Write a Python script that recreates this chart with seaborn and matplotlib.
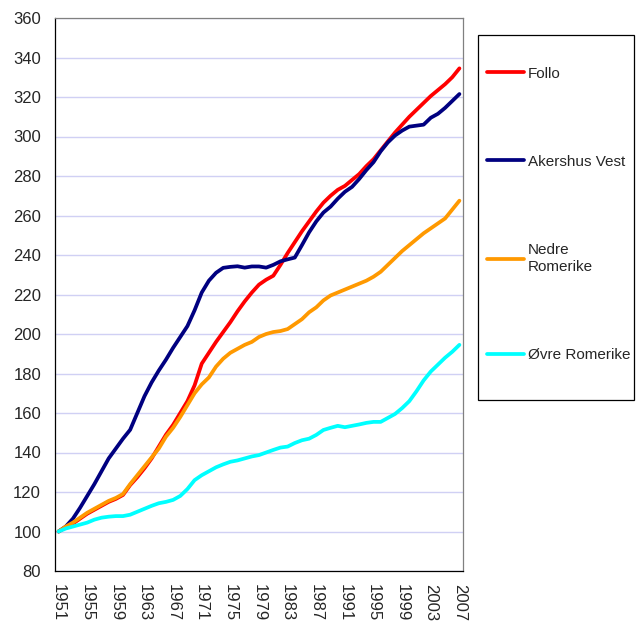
import numpy as np
import pandas as pd
import seaborn as sns
import matplotlib.pyplot as plt
from matplotlib.patches import Rectangle

years = list(range(1951, 2008))

follo = [100, 102, 104, 106.5, 109, 111, 113, 115, 116.5, 118.5,
         123.5, 127.5, 132, 137, 143, 149, 154, 160, 166, 174,
         185, 190.5, 196, 201, 206, 211.5, 216.5, 221, 225, 227.5,
         229.5, 235, 241, 246.5, 252, 257, 262, 266.5, 270, 273,
         275, 278, 281, 285, 288.5, 293, 297.5, 302, 306, 310,
         313.5, 317, 320.5, 323.5, 326.5, 330, 334.5]

akershus_vest = [100, 102.5, 106.5, 112, 118, 124, 130.5, 137, 142, 147,
                 151.5, 160, 168.5, 175.5, 181.5, 187, 193, 198.5, 204, 212,
                 221, 227, 231, 233.5, 234, 234.3, 233.6, 234.2, 234.2, 233.6,
                 235, 236.8, 237.8, 238.7, 245, 251.5, 257, 261.5, 264.5, 268.5,
                 272, 274.5, 278.5, 283, 287, 292.5, 297, 300.5, 303, 305,
                 305.5, 306, 309.5, 311.5, 314.5, 318, 321.5]

nedre_romerike = [100, 102.5, 104.5, 107, 109.5, 111.5, 113.5, 115.5, 117, 119,
                  124, 128.5, 133, 137.5, 142, 148, 152.5, 158, 164, 170,
                  174.5, 178, 183.5, 187.5, 190.5, 192.5, 194.5, 196, 198.5, 200,
                  201, 201.5, 202.5, 205, 207.5, 211, 213.5, 217, 219.5, 221,
                  222.5, 224, 225.5, 227, 229, 231.5, 235, 238.5, 242, 245,
                  248, 251, 253.5, 256, 258.5, 263, 267.5]

ovre_romerike = [100, 101.5, 102.5, 103.5, 104.5, 106, 107, 107.5, 107.8, 107.8,
                 108.5, 110, 111.5, 113, 114.3, 115, 116, 118, 121.5, 126,
                 128.5, 130.5, 132.5, 134, 135.3, 136, 137, 138, 138.7, 140,
                 141.3, 142.5, 143, 144.8, 146.2, 147, 148.9, 151.4, 152.5, 153.5,
                 152.8, 153.5, 154.2, 155, 155.5, 155.5, 157.5, 159.5, 162.5, 166,
                 171, 176.5, 181, 184.5, 188, 191, 194.5]

names = ['Follo', 'Akershus Vest', 'Nedre\nRomerike', 'Øvre Romerike']
colors = ['#FF0000', '#000080', '#FF9900', '#00FFFF']
series = [follo, akershus_vest, nedre_romerike, ovre_romerike]

df = pd.concat([pd.DataFrame({'year': years, 'value': s, 'region': n})
                for n, s in zip(names, series)], ignore_index=True)

sns.set_style('white')
plt.rcParams['font.family'] = ['Liberation Sans', 'DejaVu Sans']

fig = plt.figure(figsize=(6.36, 6.21), dpi=100)
ax = fig.add_axes([55 / 636, 1 - 571 / 621, 408 / 636, 553 / 621])

sns.lineplot(data=df, x='year', y='value', hue='region', hue_order=names,
             palette=dict(zip(names, colors)), linewidth=2.7, legend=False, ax=ax)

ax.set_xlim(1950.5, 2007.5)
ax.set_ylim(80, 360)
ax.set_yticks(np.arange(80, 361, 20))
ax.set_xticks(years[::4])
ax.set_xticks(np.arange(1950.5, 2008, 1), minor=True)
ax.set_xticklabels([str(y) for y in years[::4]], rotation=-90, fontsize=12)
ax.tick_params(axis='x', which='major', length=0, pad=9)
ax.tick_params(axis='x', which='minor', length=5, width=0.8, color='black', direction='out')
ax.tick_params(axis='y', length=5, width=0.8, color='black', direction='out', pad=5, labelsize=12)
ax.set_xlabel('')
ax.set_ylabel('')

ax.yaxis.grid(True, color='#d0d0f4', linewidth=1)
ax.xaxis.grid(False)
ax.set_axisbelow(True)
for side in ['left', 'bottom']:
    ax.spines[side].set_color('black')
    ax.spines[side].set_linewidth(0.9)
for side in ['top', 'right']:
    ax.spines[side].set_color('#808080')
    ax.spines[side].set_linewidth(0.9)

# legend box like Excel
fig.patches.append(Rectangle((478 / 636, 1 - 400 / 621), 156 / 636, 365 / 621,
                             transform=fig.transFigure, fill=False,
                             edgecolor='black', linewidth=0.9))
handles = ax.get_lines()[:4]
leg = fig.legend(handles, names, loc='upper left', bbox_to_anchor=(479 / 636, 1 - 59 / 621),
                 frameon=False, borderpad=0, labelspacing=4.85, handlelength=2.45,
                 handletextpad=0.25, fontsize=11)
for t in leg.get_texts():
    t.set_linespacing(1.3)

fig.savefig('out.png', dpi=100)
